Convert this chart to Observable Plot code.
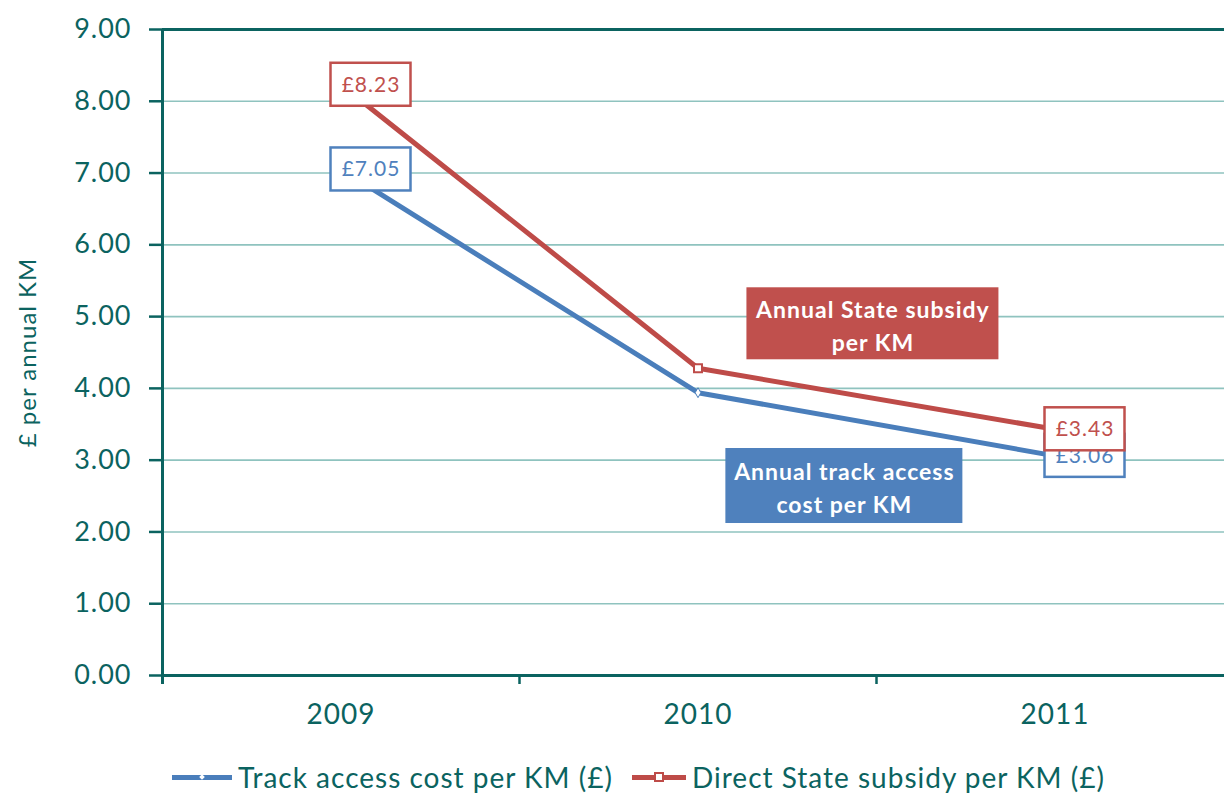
<!DOCTYPE html>
<html>
<head>
<meta charset="utf-8">
<script src="https://cdn.jsdelivr.net/npm/d3@7"></script>
<script src="https://cdn.jsdelivr.net/npm/@observablehq/plot@0.6"></script>
<style>
  html, body { margin: 0; padding: 0; background: #fff; }
  body { width: 1224px; height: 796px; overflow: hidden; font-family: Lato, "Open Sans", sans-serif; }
  #legend { position: relative; height: 54px; color: #0b6360; font-size: 28px; letter-spacing: 1px; }
  .item { position: absolute; top: 0; height: 54px; display: flex; align-items: center; }
  .sw { position: relative; height: 5px; margin-right: 6px; }
  .mk { position: absolute; top: 50%; left: 50%; background: #fff; box-sizing: border-box; }
</style>
</head>
<body>
<div id="chart"></div>
<div id="legend"></div>
<script>
// ---- data ----
const years = ["2009", "2010", "2011"];
const trackCost = [7.05, 3.94, 3.06];
const stateSubsidy = [8.23, 4.28, 3.43];
const yTicks = [0, 1, 2, 3, 4, 5, 6, 7, 8, 9];
const seriesNames = ["Track access cost per KM (£)", "Direct State subsidy per KM (£)"];
const labelledYears = [0, 2];
const annotations = [
  {text: "Annual State subsidy\nper KM", x: 1.49, y: 4.9, series: "subsidy"},
  {text: "Annual track access\ncost per KM", x: 1.41, y: 2.64, series: "track"}
];

// ---- styles ----
const teal = "#0b6360";
const grid = "#8fc3bf";
const blue = "#4a7ebb";
const red = "#be4b48";
const blueText = "#4f81bd";
const redText = "#c0504d";

const trackRows = years.map((y, i) => ({i, year: y, value: trackCost[i]}));
const subsidyRows = years.map((y, i) => ({i, year: y, value: stateSubsidy[i]}));
const trackLabels = trackRows.filter(d => labelledYears.includes(d.i));
const subsidyLabels = subsidyRows.filter(d => labelledYears.includes(d.i));
const fmt = v => "£" + v.toFixed(2);

function labelMarks(rows, color) {
  return [
    Plot.rect(rows, {x1: "i", x2: "i", y1: "value", y2: "value", dx: 30,
      insetLeft: -40, insetRight: -40, insetTop: -21.5, insetBottom: -21.5,
      fill: "white", stroke: color, strokeWidth: 2.5}),
    Plot.text(rows, {x: "i", y: "value", dx: 30, text: d => fmt(d.value), fill: color,
      fontSize: 21})
  ];
}

const chart = Plot.plot({
  width: 1224,
  height: 750,
  marginTop: 29,
  marginBottom: 75,
  marginLeft: 162,
  marginRight: 0,
  style: {fontFamily: "Lato, 'Open Sans', sans-serif", background: "white", color: teal, letterSpacing: "1px"},
  x: {type: "linear", domain: [-0.5, 2.5], range: [162, 1233], axis: null},
  y: {domain: [0, 9], range: [675, 29], axis: null},
  marks: [
    Plot.ruleY(yTicks.filter(t => t > 0 && t < 9), {stroke: grid, strokeWidth: 1.6}),
    Plot.ruleY([0, 9], {stroke: teal, strokeWidth: 3}),
    Plot.ruleX([-0.5], {stroke: teal, strokeWidth: 3, insetBottom: -9}),
    Plot.axisY(yTicks, {anchor: "left", tickSize: 13, tickPadding: 18, tickFormat: d => d.toFixed(2),
      fontSize: 27, stroke: teal, strokeWidth: 2.5, fill: teal}),
    Plot.axisX([0, 1, 2], {anchor: "bottom", tickSize: 0, tickPadding: 29, tickFormat: i => years[i],
      fontSize: 28, fill: teal}),
    Plot.axisX([-0.5, 0.5, 1.5], {anchor: "bottom", tickSize: 9, tickPadding: 0, tickFormat: () => "",
      stroke: teal, strokeWidth: 2.5}),
    Plot.text(["£ per annual KM"], {frameAnchor: "left", textAnchor: "middle", dx: -134, rotate: -90,
      fontSize: 24, fill: teal}),
    Plot.line(trackRows, {x: "i", y: "value", stroke: blue, strokeWidth: 5}),
    Plot.line(subsidyRows, {x: "i", y: "value", stroke: red, strokeWidth: 5}),
    Plot.dot(trackRows.filter(d => d.i === 1), {x: "i", y: "value", symbol: "diamond", r: 3, fill: "white", stroke: blue, strokeWidth: 1}),
    Plot.dot(subsidyRows.filter(d => d.i === 1), {x: "i", y: "value", symbol: "square", r: 4.5, fill: "white", stroke: red, strokeWidth: 2}),
    ...labelMarks(trackLabels, blueText),
    ...labelMarks(subsidyLabels, redText),
    Plot.rect(annotations.filter(d => d.series === "subsidy"), {x1: "x", x2: "x", y1: "y", y2: "y",
      insetLeft: -126, insetRight: -126, insetTop: -36, insetBottom: -36, fill: redText}),
    Plot.rect(annotations.filter(d => d.series === "track"), {x1: "x", x2: "x", y1: "y", y2: "y",
      insetLeft: -118.5, insetRight: -118.5, insetTop: -37.5, insetBottom: -37.5, fill: blueText}),
    Plot.text(annotations, {x: "x", y: "y", text: "text", fill: "white", fontWeight: "bold",
      fontSize: 23, lineHeight: 1.43})
  ]
});
document.getElementById("chart").appendChild(chart);

// ---- legend ----
const legend = document.getElementById("legend");
const legendItems = [
  {name: seriesNames[0], color: blue, left: 172, width: 60, marker: "diamond"},
  {name: seriesNames[1], color: red, left: 632, width: 54, marker: "square"}
];
for (const it of legendItems) {
  const item = document.createElement("div");
  item.className = "item";
  item.style.left = it.left + "px";
  const sw = document.createElement("div");
  sw.className = "sw";
  sw.style.width = it.width + "px";
  sw.style.background = it.color;
  const mk = document.createElement("div");
  mk.className = "mk";
  if (it.marker === "square") {
    mk.style.width = "10px"; mk.style.height = "10px";
    mk.style.border = "2px solid " + it.color;
    mk.style.transform = "translate(-50%,-50%)";
  } else {
    mk.style.width = "4px"; mk.style.height = "4px";
    mk.style.transform = "translate(-50%,-50%) rotate(45deg)";
  }
  sw.appendChild(mk);
  const tx = document.createElement("span");
  tx.textContent = it.name;
  item.appendChild(sw);
  item.appendChild(tx);
  legend.appendChild(item);
}
</script>
</body>
</html>
